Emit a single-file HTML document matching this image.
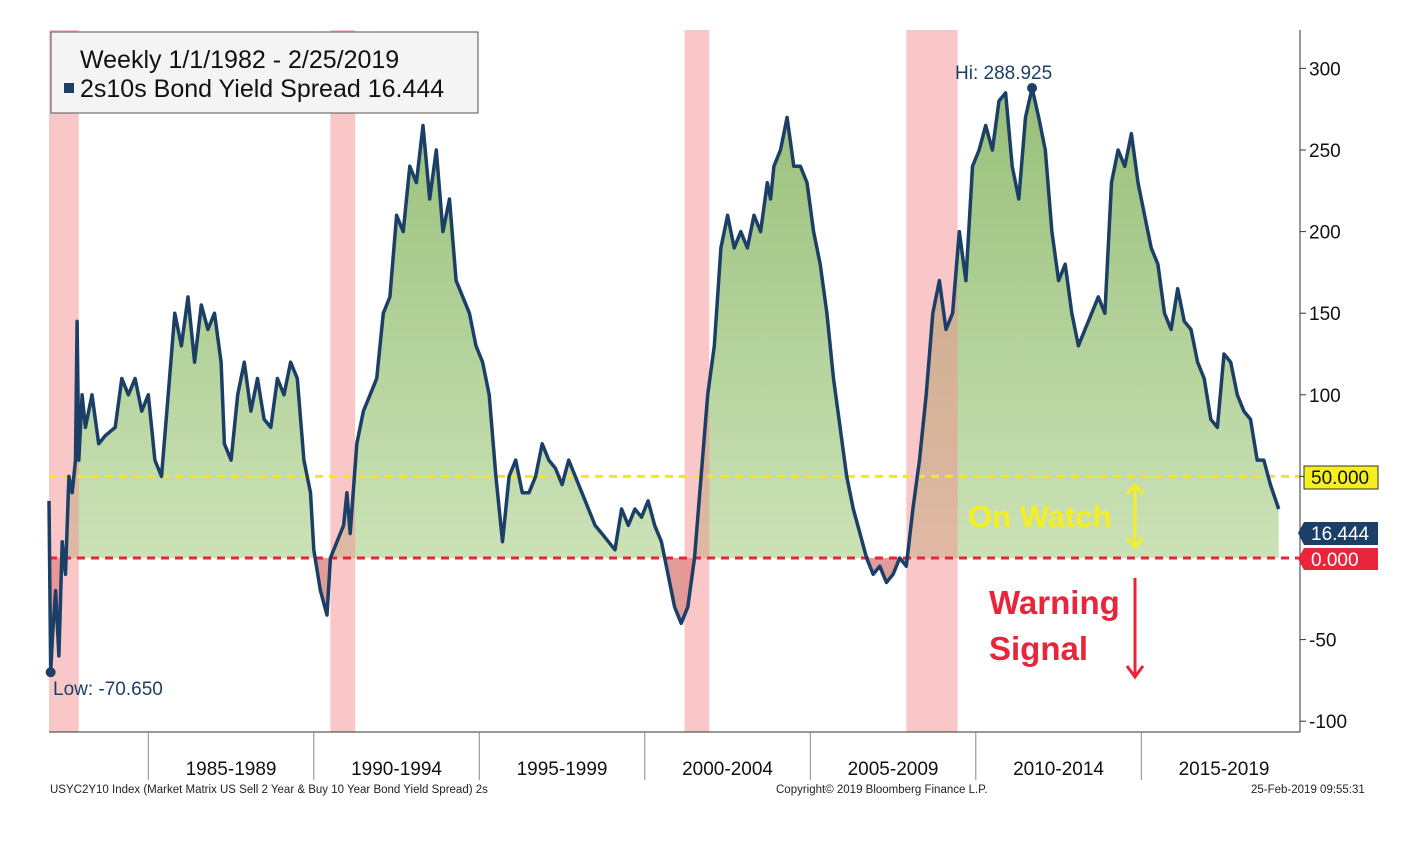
<!DOCTYPE html>
<html><head><meta charset="utf-8"><style>
body{margin:0;background:#fff;width:1414px;height:848px;overflow:hidden;font-family:"Liberation Sans",sans-serif}
</style></head><body>
<svg id="chart" width="1414" height="848" xmlns="http://www.w3.org/2000/svg" font-family="Liberation Sans, sans-serif">
<defs>
<linearGradient id="gg" x1="0" y1="0" x2="0" y2="1"><stop offset="0" stop-color="#8db86a"/><stop offset="1" stop-color="#d3e8c0"/></linearGradient>
<clipPath id="pos"><rect x="40" y="0" width="1270" height="558"/></clipPath>
<clipPath id="neg"><rect x="40" y="558" width="1270" height="200"/></clipPath>
</defs>
<g id="areas"></g>
<g id="bands"></g>
<g id="lines"></g>
<g id="axes"></g>
</svg>
<script>
const years=[1982.0,1982.05,1982.1,1982.2,1982.3,1982.4,1982.5,1982.6,1982.7,1982.8,1982.85,1982.9,1983.0,1983.1,1983.3,1983.5,1983.7,1984.0,1984.2,1984.4,1984.6,1984.8,1985.0,1985.2,1985.4,1985.6,1985.8,1986.0,1986.2,1986.4,1986.6,1986.8,1987.0,1987.2,1987.3,1987.5,1987.7,1987.9,1988.1,1988.3,1988.5,1988.7,1988.9,1989.1,1989.3,1989.5,1989.7,1989.9,1990.0,1990.2,1990.4,1990.5,1990.7,1990.9,1991.0,1991.1,1991.3,1991.5,1991.7,1991.9,1992.1,1992.3,1992.5,1992.7,1992.9,1993.1,1993.3,1993.5,1993.7,1993.9,1994.1,1994.3,1994.5,1994.7,1994.9,1995.1,1995.3,1995.5,1995.7,1995.9,1996.1,1996.3,1996.5,1996.7,1996.9,1997.1,1997.3,1997.5,1997.7,1997.9,1998.1,1998.3,1998.5,1998.7,1998.9,1999.1,1999.3,1999.5,1999.7,1999.9,2000.1,2000.3,2000.5,2000.7,2000.9,2001.1,2001.3,2001.5,2001.7,2001.9,2002.1,2002.3,2002.5,2002.7,2002.9,2003.1,2003.3,2003.5,2003.7,2003.8,2003.9,2004.1,2004.3,2004.5,2004.7,2004.9,2005.1,2005.3,2005.5,2005.7,2005.9,2006.1,2006.3,2006.5,2006.7,2006.9,2007.1,2007.3,2007.5,2007.7,2007.9,2008.1,2008.3,2008.5,2008.7,2008.9,2009.1,2009.3,2009.5,2009.7,2009.9,2010.1,2010.3,2010.5,2010.7,2010.9,2011.1,2011.3,2011.5,2011.7,2011.9,2012.1,2012.3,2012.5,2012.7,2012.9,2013.1,2013.3,2013.5,2013.7,2013.9,2014.1,2014.3,2014.5,2014.7,2014.9,2015.1,2015.3,2015.5,2015.7,2015.9,2016.1,2016.3,2016.5,2016.7,2016.9,2017.1,2017.3,2017.5,2017.7,2017.9,2018.1,2018.3,2018.5,2018.7,2018.9,2019.15];
const spread=[35,-70,-50,-20,-60,10,-10,50,40,60,145,60,100,80,100,70,75,80,110,100,110,90,100,60,50,100,150,130,160,120,155,140,150,120,70,60,100,120,90,110,85,80,110,100,120,110,60,40,5,-20,-35,0,10,20,40,15,70,90,100,110,150,160,210,200,240,230,265,220,250,200,220,170,160,150,130,120,100,50,10,50,60,40,40,50,70,60,55,45,60,50,40,30,20,15,10,5,30,20,30,25,35,20,10,-10,-30,-40,-30,0,50,100,130,190,210,190,200,190,210,200,230,220,240,250,270,240,240,230,200,180,150,110,80,50,30,15,0,-10,-5,-15,-10,0,-5,30,60,100,150,170,140,150,200,170,240,250,265,250,280,285,240,220,270,288,270,250,200,170,180,150,130,140,150,160,150,230,250,240,260,230,210,190,180,150,140,165,145,140,120,110,85,80,125,120,100,90,85,60,60,45,30,25,25,16.444];
const recStart=[1981.5,1990.5,2001.2,2007.9];
const recEnd=[1982.9,1991.25,2001.95,2009.45];
const yTicks=[300,250,200,150,100,50,0,-50,-100];
const periods=["1985-1989","1990-1994","1995-1999","2000-2004","2005-2009","2010-2014","2015-2019"];
const periodStarts=[1985,1990,1995,2000,2005,2010,2015];

const X=y=>49+(y-1982)*33.1;
const Y=v=>558-v*1.632;
const NS="http://www.w3.org/2000/svg";
function mk(tag,attrs,parent,text){const e=document.createElementNS(NS,tag);for(const k in attrs)e.setAttribute(k,attrs[k]);if(text!==undefined)e.textContent=text;parent.appendChild(e);return e;}
const bands=document.getElementById('bands'),areas=document.getElementById('areas'),lines=document.getElementById('lines'),axes=document.getElementById('axes');

recStart.forEach((s,i)=>{const x0=Math.max(49,X(s));const r=mk('rect',{x:x0,y:30,width:X(recEnd[i])-x0,height:702,fill:'#f48f8f',opacity:0.5},bands);

});

let pts=years.map((y,i)=>X(y).toFixed(1)+','+Y(spread[i]).toFixed(1)).join(' L');
const areaD='M'+X(years[0])+','+Y(0)+' L'+pts+' L'+X(years[years.length-1])+','+Y(0)+'Z';
const ga=mk('path',{d:areaD,fill:'url(#gg)','clip-path':'url(#pos)',opacity:0.9},areas);


const ra=mk('path',{d:areaD,fill:'#d9837f','clip-path':'url(#neg)',opacity:0.8},areas);



const yl=mk('line',{x1:49,x2:1300,y1:Y(50),y2:Y(50),stroke:'#f2e81a','stroke-width':3,'stroke-dasharray':'8,6'},lines);


const rl=mk('line',{x1:49,x2:1300,y1:Y(0),y2:Y(0),stroke:'#e8253a','stroke-width':3,'stroke-dasharray':'8,6'},lines);


const sl=mk('path',{d:'M'+pts,fill:'none',stroke:'#1b3f66','stroke-width':3.5,'stroke-linejoin':'round'},lines);



const hiI=spread.indexOf(Math.max(...spread)),loI=spread.indexOf(Math.min(...spread));
const hm=mk('circle',{cx:X(years[hiI]),cy:Y(spread[hiI]),r:5,fill:'#1b3f66'},lines);


const lm=mk('circle',{cx:X(years[loI]),cy:Y(spread[loI]),r:5,fill:'#1b3f66'},lines);


const ht=mk('text',{x:955,y:79,'font-size':19,fill:'#1b3f66'},lines,'Hi: 288.925');


const lt=mk('text',{x:53,y:695,'font-size':19,fill:'#1b3f66'},lines,'Low:  -70.650');



mk('line',{x1:1300,x2:1300,y1:30,y2:732,stroke:'#333','stroke-width':1},axes);
mk('line',{x1:49,x2:1300,y1:732,y2:732,stroke:'#333','stroke-width':1},axes);
yTicks.forEach(v=>{mk('line',{x1:1300,x2:1306,y1:Y(v),y2:Y(v),stroke:'#333'},axes);
if(v===50||v===0)return;
const t=mk('text',{x:1309,y:Y(v)+7,'font-size':19,fill:'#111'},axes,v);

});
periodStarts.forEach((p,i)=>{const x=X(p);mk('line',{x1:x,x2:x,y1:732,y2:780,stroke:'#888'},axes);
const t=mk('text',{x:x+(X(p+5)-x)/2,y:775,'font-size':19,fill:'#111','text-anchor':'middle'},axes,periods[i]);

});
</script>
<svg style="position:absolute;left:0;top:0" width="1414" height="848" font-family="Liberation Sans, sans-serif">
<g>
<rect x="51" y="32" width="427" height="81" fill="#f4f4f4" stroke="#555"/>
<text x="80" y="68" font-size="25" fill="#111">Weekly 1/1/1982 - 2/25/2019</text>
<rect x="64" y="83" width="10" height="10" fill="#1b3f66"/>
<text x="80" y="97" font-size="25" fill="#111">2s10s Bond Yield Spread 16.444</text>
</g>
<g>
<rect x="1304" y="466" width="74" height="23" fill="#f5ee20" stroke="#333"/><text x="1311" y="484" font-size="19" fill="#111">50.000</text>
<path d="M1304 522 H1378 V545 H1304 L1298 533Z" fill="#1b3f66"/><text x="1311" y="540" font-size="19" fill="#fff">16.444</text>
<path d="M1304 548 H1378 V570 H1304 L1298 559Z" fill="#e8253a"/><text x="1311" y="566" font-size="19" fill="#fff">0.000</text>
</g>
<text x="968" y="527" font-size="31" font-weight="bold" fill="#f5ee20">On Watch</text>
<g stroke="#f5ee20" stroke-width="3" fill="none"><line x1="1135" y1="486" x2="1135" y2="546"/><path d="M1127 494 L1135 485 L1143 494 M1127 538 L1135 547 L1143 538"/></g>
<text x="989" y="614" font-size="33" font-weight="bold" fill="#e8253a">Warning</text>
<text x="989" y="660" font-size="33" font-weight="bold" fill="#e8253a">Signal</text>
<g stroke="#e8253a" stroke-width="3" fill="none"><line x1="1135" y1="578" x2="1135" y2="676"/><path d="M1127 666 L1135 677 L1143 666"/></g>
<text x="50" y="793" font-size="11.5" fill="#222">USYC2Y10 Index (Market Matrix US Sell 2 Year &amp; Buy 10 Year Bond Yield Spread) 2s</text>
<text x="776" y="793" font-size="11.5" fill="#222">Copyright© 2019 Bloomberg Finance L.P.</text>
<text x="1251" y="793" font-size="11.5" fill="#222">25-Feb-2019 09:55:31</text>
</svg>
</body></html>
